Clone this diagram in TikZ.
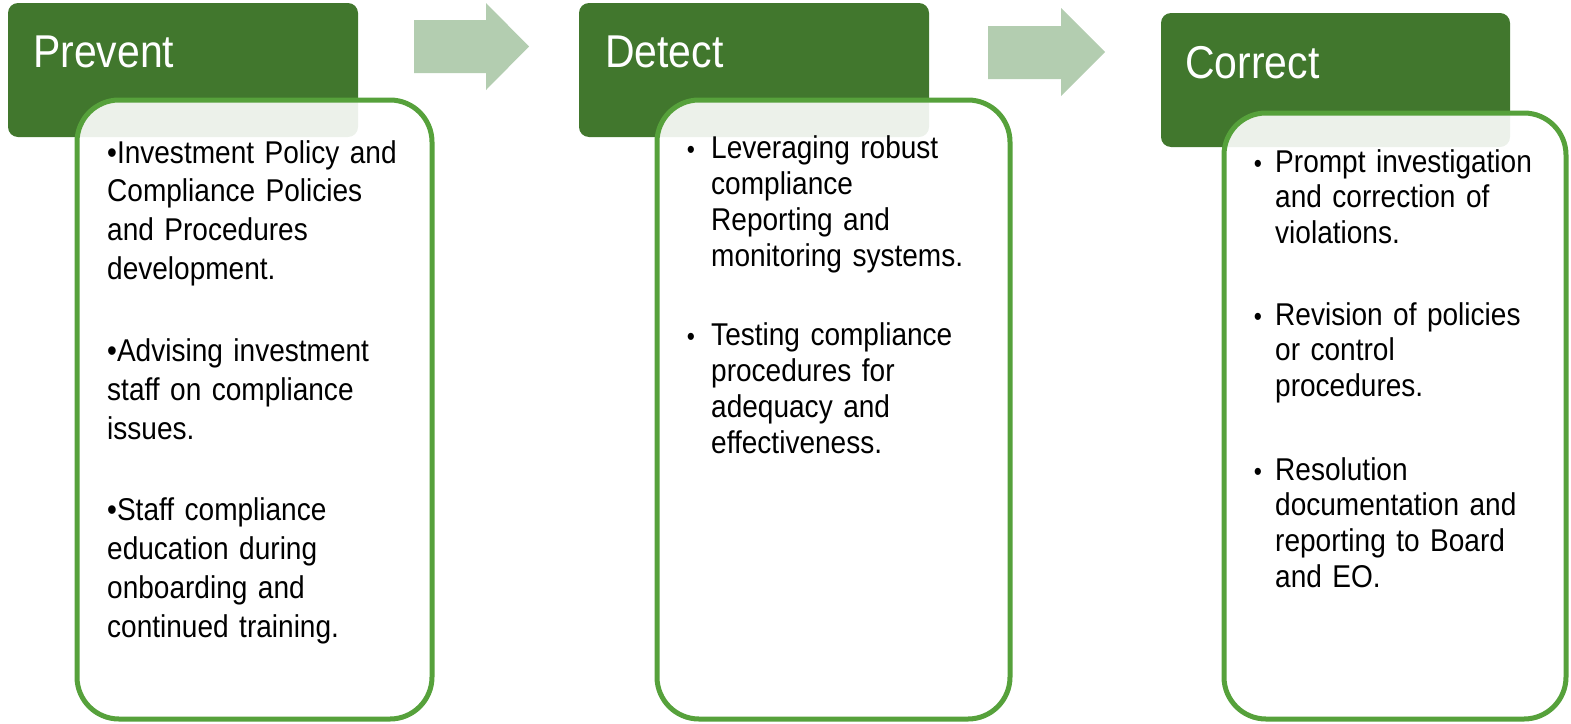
\documentclass[tikz,border=0pt]{standalone}
\usepackage{fontspec}
\setmainfont{Liberation Sans}[FakeStretch=0.89]
\definecolor{hdr}{RGB}{65,119,45}
\definecolor{brd}{RGB}{86,161,59}
\definecolor{arw}{RGB}{179,205,176}
\begin{document}
\begin{tikzpicture}[x=1pt,y=-1pt,
  hdrbox/.style={fill=hdr, rounded corners=10pt, inner sep=0pt},
  bodybox/.style={draw=brd, line width=5pt, fill=white, fill opacity=0.9, draw opacity=1, rounded corners=42pt, inner sep=0pt},
  hdrtext/.style={text=white, font=\fontsize{46}{52}\selectfont, inner sep=0pt, anchor=base west},
  bodytext/.style={text=black, inner sep=0pt, anchor=base west, align=left, text width=340pt},
  bul/.style={text=black, inner sep=0pt, anchor=base, font=\fontsize{26}{30}\selectfont},
  arrowfill/.style={fill=arw}]
\useasboundingbox (0,0) rectangle (1571,723);
% headers
\node[hdrbox, minimum width=350pt, minimum height=134pt] (h1) at (183,70) {};
\node[hdrbox, minimum width=350pt, minimum height=134pt] (h2) at (754,70) {};
\node[hdrbox, minimum width=349pt, minimum height=134pt] (h3) at (1335.5,80) {};
% arrows
\coordinate (a1) at (414,20);
\fill[arrowfill] (a1) -- ++(72,0) -- ++(0,-17) -- ++(43,43.5) -- ++(-43,43.5) -- ++(0,-17) -- ++(-72,0) -- cycle;
\coordinate (a2) at (988,26);
\fill[arrowfill] (a2) -- ++(73,0) -- ++(0,-18) -- ++(44,44) -- ++(-44,44) -- ++(0,-17) -- ++(-73,0) -- cycle;
% body boxes
\node[bodybox, minimum width=355pt, minimum height=619pt] (b1) at (254.5,409.5) {};
\node[bodybox, minimum width=353pt, minimum height=619pt] (b2) at (833.5,409.5) {};
\node[bodybox, minimum width=342pt, minimum height=606pt] (b3) at (1395,416) {};
% header texts
\node[hdrtext] (t1) at (33,67) {Prevent};
\node[hdrtext] (t2) at (605,67) {Detect};
\node[hdrtext] (t3) at (1185,78) {Correct};
% Prevent body
\node[bodytext, font=\fontsize{31.5}{38.7}\selectfont] (p1) at (107,163) {•Investment Policy and\\ Compliance Policies\\ and Procedures\\ development.\\[44pt]
•Advising investment\\ staff on compliance\\ issues.\\[43pt]
•Staff compliance\\ education during\\ onboarding and\\ continued training.};
% Detect body
\node[bodytext, font=\fontsize{31.5}{36}\selectfont] (d1) at (711,158) {Leveraging robust\\ compliance\\ Reporting and\\ monitoring systems.\\[43pt]
Testing compliance\\ procedures for\\ adequacy and\\ effectiveness.};
\node[bul] (db1) at (691,158) {•};
\node[bul] (db2) at (691,345) {•};
% Correct body
\node[bodytext, font=\fontsize{31.5}{35.7}\selectfont] (c1) at (1275,172) {Prompt investigation\\ and correction of\\ violations.\\[46pt]
Revision of policies\\ or control\\ procedures.\\[48pt]
Resolution\\ documentation and\\ reporting to Board\\ and EO.};
\node[bul] (cb1) at (1258,172) {•};
\node[bul] (cb2) at (1258,325) {•};
\node[bul] (cb3) at (1258,480) {•};
\end{tikzpicture}
\end{document}
